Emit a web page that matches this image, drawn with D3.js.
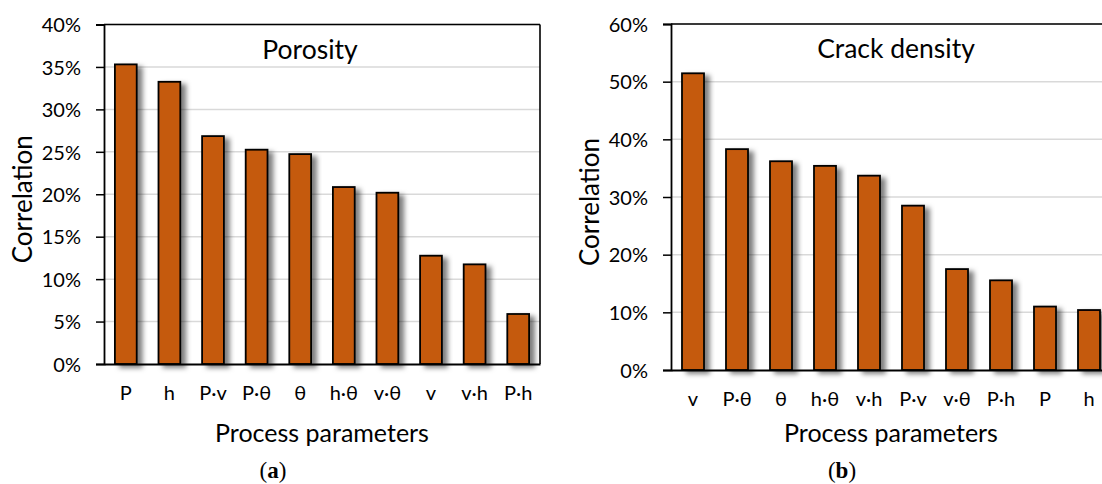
<!DOCTYPE html>
<html><head><meta charset="utf-8">
<script src="https://cdn.jsdelivr.net/npm/d3@7"></script>
<style>
html,body{margin:0;padding:0;background:#fff;}
svg{display:block;}
text{font-family:Lato,"Noto Sans",sans-serif;fill:#000;}
</style></head>
<body>
<svg id="chart" width="1102" height="484"></svg>
<script>
const categoriesA = ["P","h","P·v","P·θ","θ","h·θ","v·θ","v","v·h","P·h"];
const valuesA = [0.353,0.3325,0.2685,0.2525,0.2473,0.2085,0.2018,0.1276,0.1174,0.0589];
const ticksA = [0,0.05,0.10,0.15,0.20,0.25,0.30,0.35,0.40];
const titleA = "Porosity";

const categoriesB = ["v","P·θ","θ","h·θ","v·h","P·v","v·θ","P·h","P","h"];
const valuesB = [0.5145,0.383,0.362,0.354,0.337,0.285,0.175,0.1555,0.110,0.104];
const ticksB = [0,0.10,0.20,0.30,0.40,0.50,0.60];
const titleB = "Crack density";

const svg = d3.select("#chart");
const defs = svg.append("defs");
const f = defs.append("filter").attr("id","shadow").attr("x","-20%").attr("y","-10%").attr("width","170%").attr("height","130%");
f.append("feDropShadow").attr("dx",5).attr("dy",3).attr("stdDeviation",2.6).attr("flood-color","#000").attr("flood-opacity",0.5);

function drawChart(o){
  const g = svg.append("g");
  const x = d3.scaleBand().domain(o.cats).range([o.left,o.right]).paddingInner(0.5).paddingOuter(0.25);
  const y = d3.scaleLinear().domain([0,o.max]).range([o.bottom,o.top]);
  // gridlines
  g.append("g").selectAll("line").data(o.ticks.slice(1)).join("line")
    .attr("x1",o.left).attr("x2",o.right).attr("y1",d=>y(d)).attr("y2",d=>y(d))
    .attr("stroke","#d9d9d9").attr("stroke-width",1.5);
  // bars
  g.append("g").selectAll("rect").data(o.vals).join("rect")
    .attr("x",(d,i)=>x(o.cats[i])).attr("width",x.bandwidth())
    .attr("y",d=>y(d)).attr("height",d=>o.bottom-y(d))
    .attr("fill","#C55A11").attr("stroke","#000").attr("stroke-width",1.8)
    .attr("filter","url(#shadow)");
  // frame: top & right
  g.append("line").attr("x1",o.left).attr("x2",o.right).attr("y1",o.top).attr("y2",o.top).attr("stroke","#000").attr("stroke-width",1.6);
  g.append("line").attr("x1",o.right).attr("x2",o.right).attr("y1",o.top).attr("y2",o.bottom).attr("stroke","#000").attr("stroke-width",1.6);
  // y axis
  const ya = d3.axisLeft(y).tickValues(o.ticks).tickFormat(d3.format(".0%")).tickSize(8).tickPadding(15);
  const yg = g.append("g").attr("transform",`translate(${o.left},0)`).call(ya);
  yg.select(".domain").attr("stroke","#000").attr("stroke-width",1.8);
  yg.selectAll(".tick line").attr("stroke","#000").attr("stroke-width",1.5);
  yg.selectAll("text").attr("font-size",20).attr("font-family","Lato,sans-serif").attr("fill","#000").attr("dy","0.36em");
  // x axis
  const xa = d3.axisBottom(x).tickSize(0).tickPadding(22);
  const xg = g.append("g").attr("transform",`translate(0,${o.bottom})`).call(xa);
  xg.select(".domain").attr("stroke","#000").attr("stroke-width",1.8);
  xg.selectAll("text").attr("font-size",20).attr("font-family","Lato,sans-serif").attr("fill","#000");
  // title
  g.append("text").attr("x",o.titleX).attr("y",o.top+34).attr("text-anchor","middle").attr("font-size",26.5).text(o.title);
  // axis titles
  g.append("text").attr("x",(o.left+o.right)/2).attr("y",442).attr("text-anchor","middle").attr("font-size",25).text("Process parameters");
  g.append("text").attr("transform",`translate(${o.ylabX},${(o.top+o.bottom)/2+5}) rotate(-90)`).attr("text-anchor","middle").attr("font-size",26).text("Correlation");
  // panel label
  const pl = g.append("text").attr("x",o.panelX).attr("y",478).attr("text-anchor","middle").attr("font-size",23)
    .style("font-family","'Liberation Serif','DejaVu Serif',serif");
  pl.append("tspan").text("(");
  pl.append("tspan").attr("font-weight","bold").text(o.panel);
  pl.append("tspan").text(")");
}

drawChart({cats:categoriesA, vals:valuesA, ticks:ticksA, max:0.40, title:titleA,
  left:104, right:540, top:24.5, bottom:364, titleX:310, ylabX:32, panelX:273, panel:"a"});
drawChart({cats:categoriesB, vals:valuesB, ticks:ticksB, max:0.60, title:titleB,
  left:671, right:1111, top:24, bottom:370, titleX:896, ylabX:599, panelX:842, panel:"b"});
</script>
</body></html>
